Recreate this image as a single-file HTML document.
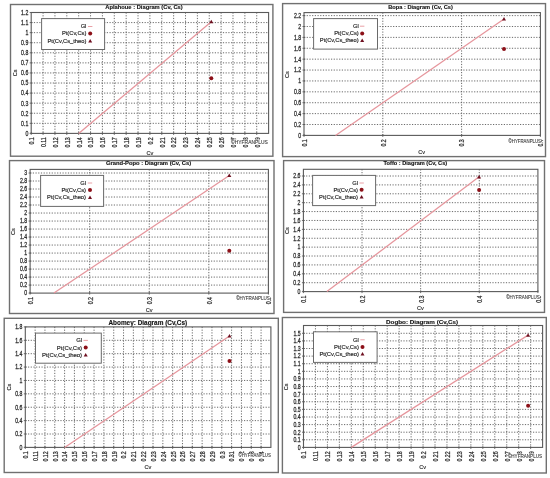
<!DOCTYPE html><html><head><meta charset="utf-8"><style>html,body{margin:0;padding:0;background:#fff;}svg{display:block;font-family:"Liberation Sans",sans-serif;filter:blur(0.35px);}</style></head><body>
<svg width="550" height="478" viewBox="0 0 550 478">
<rect x="0" y="0" width="550" height="478" fill="#fff"/>
<g><rect x="10.5" y="4.5" width="262.40" height="151.70" fill="none" stroke="#707070" stroke-width="1.4"/><text x="105.3" y="9.0" font-size="5.7" font-weight="bold" fill="#111" stroke="#111" stroke-width="0.12" textLength="77.4" lengthAdjust="spacingAndGlyphs">Aplahoue : Diagram (Cv, Cs)</text><line x1="43.07" y1="12.5" x2="43.07" y2="133.4" stroke="#5a5a5a" stroke-width="0.9" stroke-dasharray="1.2 1.5"/><line x1="54.94" y1="12.5" x2="54.94" y2="133.4" stroke="#5a5a5a" stroke-width="0.9" stroke-dasharray="1.2 1.5"/><line x1="66.81" y1="12.5" x2="66.81" y2="133.4" stroke="#5a5a5a" stroke-width="0.9" stroke-dasharray="1.2 1.5"/><line x1="78.68" y1="12.5" x2="78.68" y2="133.4" stroke="#5a5a5a" stroke-width="0.9" stroke-dasharray="1.2 1.5"/><line x1="90.55" y1="12.5" x2="90.55" y2="133.4" stroke="#5a5a5a" stroke-width="0.9" stroke-dasharray="1.2 1.5"/><line x1="102.42" y1="12.5" x2="102.42" y2="133.4" stroke="#5a5a5a" stroke-width="0.9" stroke-dasharray="1.2 1.5"/><line x1="114.29" y1="12.5" x2="114.29" y2="133.4" stroke="#5a5a5a" stroke-width="0.9" stroke-dasharray="1.2 1.5"/><line x1="126.16" y1="12.5" x2="126.16" y2="133.4" stroke="#5a5a5a" stroke-width="0.9" stroke-dasharray="1.2 1.5"/><line x1="138.03" y1="12.5" x2="138.03" y2="133.4" stroke="#5a5a5a" stroke-width="0.9" stroke-dasharray="1.2 1.5"/><line x1="149.90" y1="12.5" x2="149.90" y2="133.4" stroke="#5a5a5a" stroke-width="0.9" stroke-dasharray="1.2 1.5"/><line x1="161.77" y1="12.5" x2="161.77" y2="133.4" stroke="#5a5a5a" stroke-width="0.9" stroke-dasharray="1.2 1.5"/><line x1="173.64" y1="12.5" x2="173.64" y2="133.4" stroke="#5a5a5a" stroke-width="0.9" stroke-dasharray="1.2 1.5"/><line x1="185.51" y1="12.5" x2="185.51" y2="133.4" stroke="#5a5a5a" stroke-width="0.9" stroke-dasharray="1.2 1.5"/><line x1="197.38" y1="12.5" x2="197.38" y2="133.4" stroke="#5a5a5a" stroke-width="0.9" stroke-dasharray="1.2 1.5"/><line x1="209.25" y1="12.5" x2="209.25" y2="133.4" stroke="#5a5a5a" stroke-width="0.9" stroke-dasharray="1.2 1.5"/><line x1="221.12" y1="12.5" x2="221.12" y2="133.4" stroke="#5a5a5a" stroke-width="0.9" stroke-dasharray="1.2 1.5"/><line x1="232.99" y1="12.5" x2="232.99" y2="133.4" stroke="#5a5a5a" stroke-width="0.9" stroke-dasharray="1.2 1.5"/><line x1="244.86" y1="12.5" x2="244.86" y2="133.4" stroke="#5a5a5a" stroke-width="0.9" stroke-dasharray="1.2 1.5"/><line x1="256.73" y1="12.5" x2="256.73" y2="133.4" stroke="#5a5a5a" stroke-width="0.9" stroke-dasharray="1.2 1.5"/><line x1="31.2" y1="123.33" x2="268.6" y2="123.33" stroke="#5a5a5a" stroke-width="0.9" stroke-dasharray="1.2 1.5"/><line x1="31.2" y1="113.25" x2="268.6" y2="113.25" stroke="#5a5a5a" stroke-width="0.9" stroke-dasharray="1.2 1.5"/><line x1="31.2" y1="103.17" x2="268.6" y2="103.17" stroke="#5a5a5a" stroke-width="0.9" stroke-dasharray="1.2 1.5"/><line x1="31.2" y1="93.10" x2="268.6" y2="93.10" stroke="#5a5a5a" stroke-width="0.9" stroke-dasharray="1.2 1.5"/><line x1="31.2" y1="83.03" x2="268.6" y2="83.03" stroke="#5a5a5a" stroke-width="0.9" stroke-dasharray="1.2 1.5"/><line x1="31.2" y1="72.95" x2="268.6" y2="72.95" stroke="#5a5a5a" stroke-width="0.9" stroke-dasharray="1.2 1.5"/><line x1="31.2" y1="62.88" x2="268.6" y2="62.88" stroke="#5a5a5a" stroke-width="0.9" stroke-dasharray="1.2 1.5"/><line x1="31.2" y1="52.80" x2="268.6" y2="52.80" stroke="#5a5a5a" stroke-width="0.9" stroke-dasharray="1.2 1.5"/><line x1="31.2" y1="42.73" x2="268.6" y2="42.73" stroke="#5a5a5a" stroke-width="0.9" stroke-dasharray="1.2 1.5"/><line x1="31.2" y1="32.65" x2="268.6" y2="32.65" stroke="#5a5a5a" stroke-width="0.9" stroke-dasharray="1.2 1.5"/><line x1="31.2" y1="22.58" x2="268.6" y2="22.58" stroke="#5a5a5a" stroke-width="0.9" stroke-dasharray="1.2 1.5"/><rect x="31.2" y="12.5" width="237.40" height="120.90" fill="none" stroke="#5a5a5a" stroke-width="1.1"/><line x1="31.20" y1="132.20000000000002" x2="31.20" y2="134.9" stroke="#5a5a5a" stroke-width="0.9"/><text transform="translate(34.05,137.40) rotate(-90) scale(1,1.25)" text-anchor="end" font-size="5.2" fill="#2a2a2a" stroke="#2a2a2a" stroke-width="0.2">0.1</text><line x1="43.07" y1="132.20000000000002" x2="43.07" y2="134.9" stroke="#5a5a5a" stroke-width="0.9"/><text transform="translate(45.92,137.40) rotate(-90) scale(1,1.25)" text-anchor="end" font-size="5.2" fill="#2a2a2a" stroke="#2a2a2a" stroke-width="0.2">0.11</text><line x1="54.94" y1="132.20000000000002" x2="54.94" y2="134.9" stroke="#5a5a5a" stroke-width="0.9"/><text transform="translate(57.79,137.40) rotate(-90) scale(1,1.25)" text-anchor="end" font-size="5.2" fill="#2a2a2a" stroke="#2a2a2a" stroke-width="0.2">0.12</text><line x1="66.81" y1="132.20000000000002" x2="66.81" y2="134.9" stroke="#5a5a5a" stroke-width="0.9"/><text transform="translate(69.66,137.40) rotate(-90) scale(1,1.25)" text-anchor="end" font-size="5.2" fill="#2a2a2a" stroke="#2a2a2a" stroke-width="0.2">0.13</text><line x1="78.68" y1="132.20000000000002" x2="78.68" y2="134.9" stroke="#5a5a5a" stroke-width="0.9"/><text transform="translate(81.53,137.40) rotate(-90) scale(1,1.25)" text-anchor="end" font-size="5.2" fill="#2a2a2a" stroke="#2a2a2a" stroke-width="0.2">0.14</text><line x1="90.55" y1="132.20000000000002" x2="90.55" y2="134.9" stroke="#5a5a5a" stroke-width="0.9"/><text transform="translate(93.40,137.40) rotate(-90) scale(1,1.25)" text-anchor="end" font-size="5.2" fill="#2a2a2a" stroke="#2a2a2a" stroke-width="0.2">0.15</text><line x1="102.42" y1="132.20000000000002" x2="102.42" y2="134.9" stroke="#5a5a5a" stroke-width="0.9"/><text transform="translate(105.27,137.40) rotate(-90) scale(1,1.25)" text-anchor="end" font-size="5.2" fill="#2a2a2a" stroke="#2a2a2a" stroke-width="0.2">0.16</text><line x1="114.29" y1="132.20000000000002" x2="114.29" y2="134.9" stroke="#5a5a5a" stroke-width="0.9"/><text transform="translate(117.14,137.40) rotate(-90) scale(1,1.25)" text-anchor="end" font-size="5.2" fill="#2a2a2a" stroke="#2a2a2a" stroke-width="0.2">0.17</text><line x1="126.16" y1="132.20000000000002" x2="126.16" y2="134.9" stroke="#5a5a5a" stroke-width="0.9"/><text transform="translate(129.01,137.40) rotate(-90) scale(1,1.25)" text-anchor="end" font-size="5.2" fill="#2a2a2a" stroke="#2a2a2a" stroke-width="0.2">0.18</text><line x1="138.03" y1="132.20000000000002" x2="138.03" y2="134.9" stroke="#5a5a5a" stroke-width="0.9"/><text transform="translate(140.88,137.40) rotate(-90) scale(1,1.25)" text-anchor="end" font-size="5.2" fill="#2a2a2a" stroke="#2a2a2a" stroke-width="0.2">0.19</text><line x1="149.90" y1="132.20000000000002" x2="149.90" y2="134.9" stroke="#5a5a5a" stroke-width="0.9"/><text transform="translate(152.75,137.40) rotate(-90) scale(1,1.25)" text-anchor="end" font-size="5.2" fill="#2a2a2a" stroke="#2a2a2a" stroke-width="0.2">0.2</text><line x1="161.77" y1="132.20000000000002" x2="161.77" y2="134.9" stroke="#5a5a5a" stroke-width="0.9"/><text transform="translate(164.62,137.40) rotate(-90) scale(1,1.25)" text-anchor="end" font-size="5.2" fill="#2a2a2a" stroke="#2a2a2a" stroke-width="0.2">0.21</text><line x1="173.64" y1="132.20000000000002" x2="173.64" y2="134.9" stroke="#5a5a5a" stroke-width="0.9"/><text transform="translate(176.49,137.40) rotate(-90) scale(1,1.25)" text-anchor="end" font-size="5.2" fill="#2a2a2a" stroke="#2a2a2a" stroke-width="0.2">0.22</text><line x1="185.51" y1="132.20000000000002" x2="185.51" y2="134.9" stroke="#5a5a5a" stroke-width="0.9"/><text transform="translate(188.36,137.40) rotate(-90) scale(1,1.25)" text-anchor="end" font-size="5.2" fill="#2a2a2a" stroke="#2a2a2a" stroke-width="0.2">0.23</text><line x1="197.38" y1="132.20000000000002" x2="197.38" y2="134.9" stroke="#5a5a5a" stroke-width="0.9"/><text transform="translate(200.23,137.40) rotate(-90) scale(1,1.25)" text-anchor="end" font-size="5.2" fill="#2a2a2a" stroke="#2a2a2a" stroke-width="0.2">0.24</text><line x1="209.25" y1="132.20000000000002" x2="209.25" y2="134.9" stroke="#5a5a5a" stroke-width="0.9"/><text transform="translate(212.10,137.40) rotate(-90) scale(1,1.25)" text-anchor="end" font-size="5.2" fill="#2a2a2a" stroke="#2a2a2a" stroke-width="0.2">0.25</text><line x1="221.12" y1="132.20000000000002" x2="221.12" y2="134.9" stroke="#5a5a5a" stroke-width="0.9"/><text transform="translate(223.97,137.40) rotate(-90) scale(1,1.25)" text-anchor="end" font-size="5.2" fill="#2a2a2a" stroke="#2a2a2a" stroke-width="0.2">0.26</text><line x1="232.99" y1="132.20000000000002" x2="232.99" y2="134.9" stroke="#5a5a5a" stroke-width="0.9"/><text transform="translate(235.84,137.40) rotate(-90) scale(1,1.25)" text-anchor="end" font-size="5.2" fill="#2a2a2a" stroke="#2a2a2a" stroke-width="0.2">0.27</text><line x1="244.86" y1="132.20000000000002" x2="244.86" y2="134.9" stroke="#5a5a5a" stroke-width="0.9"/><text transform="translate(247.71,137.40) rotate(-90) scale(1,1.25)" text-anchor="end" font-size="5.2" fill="#2a2a2a" stroke="#2a2a2a" stroke-width="0.2">0.28</text><line x1="256.73" y1="132.20000000000002" x2="256.73" y2="134.9" stroke="#5a5a5a" stroke-width="0.9"/><text transform="translate(259.58,137.40) rotate(-90) scale(1,1.25)" text-anchor="end" font-size="5.2" fill="#2a2a2a" stroke="#2a2a2a" stroke-width="0.2">0.29</text><line x1="29.7" y1="133.40" x2="32.4" y2="133.40" stroke="#5a5a5a" stroke-width="0.9"/><text transform="translate(28.30,135.75) scale(1,1.25)" text-anchor="end" font-size="5.2" fill="#2a2a2a" stroke="#2a2a2a" stroke-width="0.2">0</text><line x1="29.7" y1="123.33" x2="32.4" y2="123.33" stroke="#5a5a5a" stroke-width="0.9"/><text transform="translate(28.30,125.67) scale(1,1.25)" text-anchor="end" font-size="5.2" fill="#2a2a2a" stroke="#2a2a2a" stroke-width="0.2">0.1</text><line x1="29.7" y1="113.25" x2="32.4" y2="113.25" stroke="#5a5a5a" stroke-width="0.9"/><text transform="translate(28.30,115.60) scale(1,1.25)" text-anchor="end" font-size="5.2" fill="#2a2a2a" stroke="#2a2a2a" stroke-width="0.2">0.2</text><line x1="29.7" y1="103.17" x2="32.4" y2="103.17" stroke="#5a5a5a" stroke-width="0.9"/><text transform="translate(28.30,105.52) scale(1,1.25)" text-anchor="end" font-size="5.2" fill="#2a2a2a" stroke="#2a2a2a" stroke-width="0.2">0.3</text><line x1="29.7" y1="93.10" x2="32.4" y2="93.10" stroke="#5a5a5a" stroke-width="0.9"/><text transform="translate(28.30,95.45) scale(1,1.25)" text-anchor="end" font-size="5.2" fill="#2a2a2a" stroke="#2a2a2a" stroke-width="0.2">0.4</text><line x1="29.7" y1="83.03" x2="32.4" y2="83.03" stroke="#5a5a5a" stroke-width="0.9"/><text transform="translate(28.30,85.38) scale(1,1.25)" text-anchor="end" font-size="5.2" fill="#2a2a2a" stroke="#2a2a2a" stroke-width="0.2">0.5</text><line x1="29.7" y1="72.95" x2="32.4" y2="72.95" stroke="#5a5a5a" stroke-width="0.9"/><text transform="translate(28.30,75.30) scale(1,1.25)" text-anchor="end" font-size="5.2" fill="#2a2a2a" stroke="#2a2a2a" stroke-width="0.2">0.6</text><line x1="29.7" y1="62.88" x2="32.4" y2="62.88" stroke="#5a5a5a" stroke-width="0.9"/><text transform="translate(28.30,65.22) scale(1,1.25)" text-anchor="end" font-size="5.2" fill="#2a2a2a" stroke="#2a2a2a" stroke-width="0.2">0.7</text><line x1="29.7" y1="52.80" x2="32.4" y2="52.80" stroke="#5a5a5a" stroke-width="0.9"/><text transform="translate(28.30,55.15) scale(1,1.25)" text-anchor="end" font-size="5.2" fill="#2a2a2a" stroke="#2a2a2a" stroke-width="0.2">0.8</text><line x1="29.7" y1="42.73" x2="32.4" y2="42.73" stroke="#5a5a5a" stroke-width="0.9"/><text transform="translate(28.30,45.08) scale(1,1.25)" text-anchor="end" font-size="5.2" fill="#2a2a2a" stroke="#2a2a2a" stroke-width="0.2">0.9</text><line x1="29.7" y1="32.65" x2="32.4" y2="32.65" stroke="#5a5a5a" stroke-width="0.9"/><text transform="translate(28.30,35.00) scale(1,1.25)" text-anchor="end" font-size="5.2" fill="#2a2a2a" stroke="#2a2a2a" stroke-width="0.2">1</text><line x1="29.7" y1="22.58" x2="32.4" y2="22.58" stroke="#5a5a5a" stroke-width="0.9"/><text transform="translate(28.30,24.93) scale(1,1.25)" text-anchor="end" font-size="5.2" fill="#2a2a2a" stroke="#2a2a2a" stroke-width="0.2">1.1</text><line x1="29.7" y1="12.50" x2="32.4" y2="12.50" stroke="#5a5a5a" stroke-width="0.9"/><text transform="translate(28.30,14.85) scale(1,1.25)" text-anchor="end" font-size="5.2" fill="#2a2a2a" stroke="#2a2a2a" stroke-width="0.2">1.2</text><rect x="41.6" y="18.6" width="63.00" height="30.90" fill="#fff" stroke="#6a6a6a" stroke-width="1"/><text x="86.4" y="28.40" text-anchor="end" font-size="5.75" fill="#2a2a2a" stroke="#2a2a2a" stroke-width="0.18">Gl</text><text x="86.4" y="35.40" text-anchor="end" font-size="5.75" fill="#2a2a2a" stroke="#2a2a2a" stroke-width="0.18">Pt(Cv,Cs)</text><text x="86.4" y="42.70" text-anchor="end" font-size="5.75" fill="#2a2a2a" stroke="#2a2a2a" stroke-width="0.18">Pt(Cv,Cs_theo)</text><line x1="88.00" y1="26.50" x2="92.40" y2="26.50" stroke="#e6959c" stroke-width="0.9"/><circle cx="90.20" cy="33.50" r="2.0" fill="#8c1018"/><path d="M88.20,42.40 L92.20,42.40 L90.20,38.90 Z" fill="#6e1020"/><line x1="78.68" y1="133.4" x2="211.30" y2="21.70" stroke="#e6959c" stroke-width="1.25"/><circle cx="211.30" cy="78.30" r="2.0" fill="#8c1018"/><path d="M209.30,23.30 L213.30,23.30 L211.30,19.80 Z" fill="#6e1020"/><text transform="translate(16.70,72.90) rotate(-90)" text-anchor="middle" font-size="5.6" fill="#2a2a2a" stroke="#2a2a2a" stroke-width="0.15">Cs</text><text x="150.00" y="154.90" text-anchor="middle" font-size="5.6" fill="#2a2a2a" stroke="#2a2a2a" stroke-width="0.15">Cv</text><rect x="230.80" y="139.50" width="37.40" height="5.0" fill="#fff"/><text x="231.10" y="143.50" font-size="4.6" fill="#3a3a3a" stroke="#3a3a3a" stroke-width="0.1" textLength="36.80" lengthAdjust="spacingAndGlyphs">©HYFRANPLUS</text></g>
<g><rect x="282.6" y="3.6" width="262.90" height="153.00" fill="none" stroke="#707070" stroke-width="1.4"/><text x="388.2" y="9.3" font-size="5.7" font-weight="bold" fill="#111" stroke="#111" stroke-width="0.12" textLength="64.6" lengthAdjust="spacingAndGlyphs">Bopa : Diagram (Cv, Cs)</text><line x1="382.80" y1="12.6" x2="382.80" y2="135.4" stroke="#5a5a5a" stroke-width="0.9" stroke-dasharray="1.2 1.5"/><line x1="461.60" y1="12.6" x2="461.60" y2="135.4" stroke="#5a5a5a" stroke-width="0.9" stroke-dasharray="1.2 1.5"/><line x1="304.0" y1="124.51" x2="540.4" y2="124.51" stroke="#5a5a5a" stroke-width="0.9" stroke-dasharray="1.2 1.5"/><line x1="304.0" y1="113.62" x2="540.4" y2="113.62" stroke="#5a5a5a" stroke-width="0.9" stroke-dasharray="1.2 1.5"/><line x1="304.0" y1="102.73" x2="540.4" y2="102.73" stroke="#5a5a5a" stroke-width="0.9" stroke-dasharray="1.2 1.5"/><line x1="304.0" y1="91.84" x2="540.4" y2="91.84" stroke="#5a5a5a" stroke-width="0.9" stroke-dasharray="1.2 1.5"/><line x1="304.0" y1="80.95" x2="540.4" y2="80.95" stroke="#5a5a5a" stroke-width="0.9" stroke-dasharray="1.2 1.5"/><line x1="304.0" y1="70.06" x2="540.4" y2="70.06" stroke="#5a5a5a" stroke-width="0.9" stroke-dasharray="1.2 1.5"/><line x1="304.0" y1="59.17" x2="540.4" y2="59.17" stroke="#5a5a5a" stroke-width="0.9" stroke-dasharray="1.2 1.5"/><line x1="304.0" y1="48.28" x2="540.4" y2="48.28" stroke="#5a5a5a" stroke-width="0.9" stroke-dasharray="1.2 1.5"/><line x1="304.0" y1="37.39" x2="540.4" y2="37.39" stroke="#5a5a5a" stroke-width="0.9" stroke-dasharray="1.2 1.5"/><line x1="304.0" y1="26.50" x2="540.4" y2="26.50" stroke="#5a5a5a" stroke-width="0.9" stroke-dasharray="1.2 1.5"/><line x1="304.0" y1="15.61" x2="540.4" y2="15.61" stroke="#5a5a5a" stroke-width="0.9" stroke-dasharray="1.2 1.5"/><rect x="304.0" y="12.6" width="236.40" height="122.80" fill="none" stroke="#5a5a5a" stroke-width="1.1"/><line x1="304.00" y1="134.20000000000002" x2="304.00" y2="136.9" stroke="#5a5a5a" stroke-width="0.9"/><text transform="translate(306.85,139.40) rotate(-90) scale(1,1.25)" text-anchor="end" font-size="5.2" fill="#2a2a2a" stroke="#2a2a2a" stroke-width="0.2">0.1</text><line x1="382.80" y1="134.20000000000002" x2="382.80" y2="136.9" stroke="#5a5a5a" stroke-width="0.9"/><text transform="translate(385.65,139.40) rotate(-90) scale(1,1.25)" text-anchor="end" font-size="5.2" fill="#2a2a2a" stroke="#2a2a2a" stroke-width="0.2">0.2</text><line x1="461.60" y1="134.20000000000002" x2="461.60" y2="136.9" stroke="#5a5a5a" stroke-width="0.9"/><text transform="translate(464.45,139.40) rotate(-90) scale(1,1.25)" text-anchor="end" font-size="5.2" fill="#2a2a2a" stroke="#2a2a2a" stroke-width="0.2">0.3</text><line x1="540.40" y1="134.20000000000002" x2="540.40" y2="136.9" stroke="#5a5a5a" stroke-width="0.9"/><text transform="translate(543.25,139.40) rotate(-90) scale(1,1.25)" text-anchor="end" font-size="5.2" fill="#2a2a2a" stroke="#2a2a2a" stroke-width="0.2">0.4</text><line x1="302.5" y1="135.40" x2="305.2" y2="135.40" stroke="#5a5a5a" stroke-width="0.9"/><text transform="translate(301.10,137.75) scale(1,1.25)" text-anchor="end" font-size="5.2" fill="#2a2a2a" stroke="#2a2a2a" stroke-width="0.2">0</text><line x1="302.5" y1="124.51" x2="305.2" y2="124.51" stroke="#5a5a5a" stroke-width="0.9"/><text transform="translate(301.10,126.86) scale(1,1.25)" text-anchor="end" font-size="5.2" fill="#2a2a2a" stroke="#2a2a2a" stroke-width="0.2">0.2</text><line x1="302.5" y1="113.62" x2="305.2" y2="113.62" stroke="#5a5a5a" stroke-width="0.9"/><text transform="translate(301.10,115.97) scale(1,1.25)" text-anchor="end" font-size="5.2" fill="#2a2a2a" stroke="#2a2a2a" stroke-width="0.2">0.4</text><line x1="302.5" y1="102.73" x2="305.2" y2="102.73" stroke="#5a5a5a" stroke-width="0.9"/><text transform="translate(301.10,105.08) scale(1,1.25)" text-anchor="end" font-size="5.2" fill="#2a2a2a" stroke="#2a2a2a" stroke-width="0.2">0.6</text><line x1="302.5" y1="91.84" x2="305.2" y2="91.84" stroke="#5a5a5a" stroke-width="0.9"/><text transform="translate(301.10,94.19) scale(1,1.25)" text-anchor="end" font-size="5.2" fill="#2a2a2a" stroke="#2a2a2a" stroke-width="0.2">0.8</text><line x1="302.5" y1="80.95" x2="305.2" y2="80.95" stroke="#5a5a5a" stroke-width="0.9"/><text transform="translate(301.10,83.30) scale(1,1.25)" text-anchor="end" font-size="5.2" fill="#2a2a2a" stroke="#2a2a2a" stroke-width="0.2">1</text><line x1="302.5" y1="70.06" x2="305.2" y2="70.06" stroke="#5a5a5a" stroke-width="0.9"/><text transform="translate(301.10,72.41) scale(1,1.25)" text-anchor="end" font-size="5.2" fill="#2a2a2a" stroke="#2a2a2a" stroke-width="0.2">1.2</text><line x1="302.5" y1="59.17" x2="305.2" y2="59.17" stroke="#5a5a5a" stroke-width="0.9"/><text transform="translate(301.10,61.52) scale(1,1.25)" text-anchor="end" font-size="5.2" fill="#2a2a2a" stroke="#2a2a2a" stroke-width="0.2">1.4</text><line x1="302.5" y1="48.28" x2="305.2" y2="48.28" stroke="#5a5a5a" stroke-width="0.9"/><text transform="translate(301.10,50.63) scale(1,1.25)" text-anchor="end" font-size="5.2" fill="#2a2a2a" stroke="#2a2a2a" stroke-width="0.2">1.6</text><line x1="302.5" y1="37.39" x2="305.2" y2="37.39" stroke="#5a5a5a" stroke-width="0.9"/><text transform="translate(301.10,39.74) scale(1,1.25)" text-anchor="end" font-size="5.2" fill="#2a2a2a" stroke="#2a2a2a" stroke-width="0.2">1.8</text><line x1="302.5" y1="26.50" x2="305.2" y2="26.50" stroke="#5a5a5a" stroke-width="0.9"/><text transform="translate(301.10,28.85) scale(1,1.25)" text-anchor="end" font-size="5.2" fill="#2a2a2a" stroke="#2a2a2a" stroke-width="0.2">2</text><line x1="302.5" y1="15.61" x2="305.2" y2="15.61" stroke="#5a5a5a" stroke-width="0.9"/><text transform="translate(301.10,17.96) scale(1,1.25)" text-anchor="end" font-size="5.2" fill="#2a2a2a" stroke="#2a2a2a" stroke-width="0.2">2.2</text><rect x="313.6" y="18.6" width="63.90" height="30.50" fill="#fff" stroke="#6a6a6a" stroke-width="1"/><text x="358.7" y="28.10" text-anchor="end" font-size="5.75" fill="#2a2a2a" stroke="#2a2a2a" stroke-width="0.18">Gl</text><text x="358.7" y="35.40" text-anchor="end" font-size="5.75" fill="#2a2a2a" stroke="#2a2a2a" stroke-width="0.18">Pt(Cv,Cs)</text><text x="358.7" y="42.40" text-anchor="end" font-size="5.75" fill="#2a2a2a" stroke="#2a2a2a" stroke-width="0.18">Pt(Cv,Cs_theo)</text><line x1="360.00" y1="26.20" x2="364.40" y2="26.20" stroke="#e6959c" stroke-width="0.9"/><circle cx="362.20" cy="33.50" r="2.0" fill="#8c1018"/><path d="M360.20,42.10 L364.20,42.10 L362.20,38.60 Z" fill="#6e1020"/><line x1="335.52" y1="135.4" x2="504.00" y2="19.00" stroke="#e6959c" stroke-width="1.25"/><circle cx="504.00" cy="49.00" r="2.0" fill="#8c1018"/><path d="M502.00,20.60 L506.00,20.60 L504.00,17.10 Z" fill="#6e1020"/><text transform="translate(289.10,74.50) rotate(-90)" text-anchor="middle" font-size="5.6" fill="#2a2a2a" stroke="#2a2a2a" stroke-width="0.15">Cs</text><text x="421.60" y="154.20" text-anchor="middle" font-size="5.6" fill="#2a2a2a" stroke="#2a2a2a" stroke-width="0.15">Cv</text><rect x="508.30" y="139.10" width="33.00" height="5.0" fill="#fff"/><text x="508.60" y="143.10" font-size="4.6" fill="#3a3a3a" stroke="#3a3a3a" stroke-width="0.1" textLength="32.40" lengthAdjust="spacingAndGlyphs">©HYFRANPLUS</text></g>
<g><rect x="9.5" y="160.6" width="264.50" height="152.90" fill="none" stroke="#707070" stroke-width="1.4"/><text x="106.0" y="165.2" font-size="5.8" font-weight="bold" fill="#111" stroke="#111" stroke-width="0.12" textLength="85.2" lengthAdjust="spacingAndGlyphs">Grand-Popo : Diagram (Cv, Cs)</text><line x1="89.67" y1="169.4" x2="89.67" y2="293.1" stroke="#5a5a5a" stroke-width="0.9" stroke-dasharray="1.2 1.5"/><line x1="149.25" y1="169.4" x2="149.25" y2="293.1" stroke="#5a5a5a" stroke-width="0.9" stroke-dasharray="1.2 1.5"/><line x1="208.82" y1="169.4" x2="208.82" y2="293.1" stroke="#5a5a5a" stroke-width="0.9" stroke-dasharray="1.2 1.5"/><line x1="30.1" y1="285.09" x2="268.4" y2="285.09" stroke="#5a5a5a" stroke-width="0.9" stroke-dasharray="1.2 1.5"/><line x1="30.1" y1="277.09" x2="268.4" y2="277.09" stroke="#5a5a5a" stroke-width="0.9" stroke-dasharray="1.2 1.5"/><line x1="30.1" y1="269.08" x2="268.4" y2="269.08" stroke="#5a5a5a" stroke-width="0.9" stroke-dasharray="1.2 1.5"/><line x1="30.1" y1="261.08" x2="268.4" y2="261.08" stroke="#5a5a5a" stroke-width="0.9" stroke-dasharray="1.2 1.5"/><line x1="30.1" y1="253.07" x2="268.4" y2="253.07" stroke="#5a5a5a" stroke-width="0.9" stroke-dasharray="1.2 1.5"/><line x1="30.1" y1="245.06" x2="268.4" y2="245.06" stroke="#5a5a5a" stroke-width="0.9" stroke-dasharray="1.2 1.5"/><line x1="30.1" y1="237.06" x2="268.4" y2="237.06" stroke="#5a5a5a" stroke-width="0.9" stroke-dasharray="1.2 1.5"/><line x1="30.1" y1="229.05" x2="268.4" y2="229.05" stroke="#5a5a5a" stroke-width="0.9" stroke-dasharray="1.2 1.5"/><line x1="30.1" y1="221.05" x2="268.4" y2="221.05" stroke="#5a5a5a" stroke-width="0.9" stroke-dasharray="1.2 1.5"/><line x1="30.1" y1="213.04" x2="268.4" y2="213.04" stroke="#5a5a5a" stroke-width="0.9" stroke-dasharray="1.2 1.5"/><line x1="30.1" y1="205.03" x2="268.4" y2="205.03" stroke="#5a5a5a" stroke-width="0.9" stroke-dasharray="1.2 1.5"/><line x1="30.1" y1="197.03" x2="268.4" y2="197.03" stroke="#5a5a5a" stroke-width="0.9" stroke-dasharray="1.2 1.5"/><line x1="30.1" y1="189.02" x2="268.4" y2="189.02" stroke="#5a5a5a" stroke-width="0.9" stroke-dasharray="1.2 1.5"/><line x1="30.1" y1="181.02" x2="268.4" y2="181.02" stroke="#5a5a5a" stroke-width="0.9" stroke-dasharray="1.2 1.5"/><line x1="30.1" y1="173.01" x2="268.4" y2="173.01" stroke="#5a5a5a" stroke-width="0.9" stroke-dasharray="1.2 1.5"/><rect x="30.1" y="169.4" width="238.30" height="123.70" fill="none" stroke="#5a5a5a" stroke-width="1.1"/><line x1="30.10" y1="291.90000000000003" x2="30.10" y2="294.6" stroke="#5a5a5a" stroke-width="0.9"/><text transform="translate(32.95,297.10) rotate(-90) scale(1,1.25)" text-anchor="end" font-size="5.2" fill="#2a2a2a" stroke="#2a2a2a" stroke-width="0.2">0.1</text><line x1="89.67" y1="291.90000000000003" x2="89.67" y2="294.6" stroke="#5a5a5a" stroke-width="0.9"/><text transform="translate(92.52,297.10) rotate(-90) scale(1,1.25)" text-anchor="end" font-size="5.2" fill="#2a2a2a" stroke="#2a2a2a" stroke-width="0.2">0.2</text><line x1="149.25" y1="291.90000000000003" x2="149.25" y2="294.6" stroke="#5a5a5a" stroke-width="0.9"/><text transform="translate(152.10,297.10) rotate(-90) scale(1,1.25)" text-anchor="end" font-size="5.2" fill="#2a2a2a" stroke="#2a2a2a" stroke-width="0.2">0.3</text><line x1="208.82" y1="291.90000000000003" x2="208.82" y2="294.6" stroke="#5a5a5a" stroke-width="0.9"/><text transform="translate(211.67,297.10) rotate(-90) scale(1,1.25)" text-anchor="end" font-size="5.2" fill="#2a2a2a" stroke="#2a2a2a" stroke-width="0.2">0.4</text><line x1="268.40" y1="291.90000000000003" x2="268.40" y2="294.6" stroke="#5a5a5a" stroke-width="0.9"/><text transform="translate(271.25,297.10) rotate(-90) scale(1,1.25)" text-anchor="end" font-size="5.2" fill="#2a2a2a" stroke="#2a2a2a" stroke-width="0.2">0.5</text><line x1="28.6" y1="293.10" x2="31.3" y2="293.10" stroke="#5a5a5a" stroke-width="0.9"/><text transform="translate(27.20,295.45) scale(1,1.25)" text-anchor="end" font-size="5.2" fill="#2a2a2a" stroke="#2a2a2a" stroke-width="0.2">0</text><line x1="28.6" y1="285.09" x2="31.3" y2="285.09" stroke="#5a5a5a" stroke-width="0.9"/><text transform="translate(27.20,287.44) scale(1,1.25)" text-anchor="end" font-size="5.2" fill="#2a2a2a" stroke="#2a2a2a" stroke-width="0.2">0.2</text><line x1="28.6" y1="277.09" x2="31.3" y2="277.09" stroke="#5a5a5a" stroke-width="0.9"/><text transform="translate(27.20,279.44) scale(1,1.25)" text-anchor="end" font-size="5.2" fill="#2a2a2a" stroke="#2a2a2a" stroke-width="0.2">0.4</text><line x1="28.6" y1="269.08" x2="31.3" y2="269.08" stroke="#5a5a5a" stroke-width="0.9"/><text transform="translate(27.20,271.43) scale(1,1.25)" text-anchor="end" font-size="5.2" fill="#2a2a2a" stroke="#2a2a2a" stroke-width="0.2">0.6</text><line x1="28.6" y1="261.08" x2="31.3" y2="261.08" stroke="#5a5a5a" stroke-width="0.9"/><text transform="translate(27.20,263.43) scale(1,1.25)" text-anchor="end" font-size="5.2" fill="#2a2a2a" stroke="#2a2a2a" stroke-width="0.2">0.8</text><line x1="28.6" y1="253.07" x2="31.3" y2="253.07" stroke="#5a5a5a" stroke-width="0.9"/><text transform="translate(27.20,255.42) scale(1,1.25)" text-anchor="end" font-size="5.2" fill="#2a2a2a" stroke="#2a2a2a" stroke-width="0.2">1</text><line x1="28.6" y1="245.06" x2="31.3" y2="245.06" stroke="#5a5a5a" stroke-width="0.9"/><text transform="translate(27.20,247.41) scale(1,1.25)" text-anchor="end" font-size="5.2" fill="#2a2a2a" stroke="#2a2a2a" stroke-width="0.2">1.2</text><line x1="28.6" y1="237.06" x2="31.3" y2="237.06" stroke="#5a5a5a" stroke-width="0.9"/><text transform="translate(27.20,239.41) scale(1,1.25)" text-anchor="end" font-size="5.2" fill="#2a2a2a" stroke="#2a2a2a" stroke-width="0.2">1.4</text><line x1="28.6" y1="229.05" x2="31.3" y2="229.05" stroke="#5a5a5a" stroke-width="0.9"/><text transform="translate(27.20,231.40) scale(1,1.25)" text-anchor="end" font-size="5.2" fill="#2a2a2a" stroke="#2a2a2a" stroke-width="0.2">1.6</text><line x1="28.6" y1="221.05" x2="31.3" y2="221.05" stroke="#5a5a5a" stroke-width="0.9"/><text transform="translate(27.20,223.40) scale(1,1.25)" text-anchor="end" font-size="5.2" fill="#2a2a2a" stroke="#2a2a2a" stroke-width="0.2">1.8</text><line x1="28.6" y1="213.04" x2="31.3" y2="213.04" stroke="#5a5a5a" stroke-width="0.9"/><text transform="translate(27.20,215.39) scale(1,1.25)" text-anchor="end" font-size="5.2" fill="#2a2a2a" stroke="#2a2a2a" stroke-width="0.2">2</text><line x1="28.6" y1="205.03" x2="31.3" y2="205.03" stroke="#5a5a5a" stroke-width="0.9"/><text transform="translate(27.20,207.38) scale(1,1.25)" text-anchor="end" font-size="5.2" fill="#2a2a2a" stroke="#2a2a2a" stroke-width="0.2">2.2</text><line x1="28.6" y1="197.03" x2="31.3" y2="197.03" stroke="#5a5a5a" stroke-width="0.9"/><text transform="translate(27.20,199.38) scale(1,1.25)" text-anchor="end" font-size="5.2" fill="#2a2a2a" stroke="#2a2a2a" stroke-width="0.2">2.4</text><line x1="28.6" y1="189.02" x2="31.3" y2="189.02" stroke="#5a5a5a" stroke-width="0.9"/><text transform="translate(27.20,191.37) scale(1,1.25)" text-anchor="end" font-size="5.2" fill="#2a2a2a" stroke="#2a2a2a" stroke-width="0.2">2.6</text><line x1="28.6" y1="181.02" x2="31.3" y2="181.02" stroke="#5a5a5a" stroke-width="0.9"/><text transform="translate(27.20,183.37) scale(1,1.25)" text-anchor="end" font-size="5.2" fill="#2a2a2a" stroke="#2a2a2a" stroke-width="0.2">2.8</text><line x1="28.6" y1="173.01" x2="31.3" y2="173.01" stroke="#5a5a5a" stroke-width="0.9"/><text transform="translate(27.20,175.36) scale(1,1.25)" text-anchor="end" font-size="5.2" fill="#2a2a2a" stroke="#2a2a2a" stroke-width="0.2">3</text><rect x="40.6" y="175.4" width="63.00" height="31.00" fill="#fff" stroke="#6a6a6a" stroke-width="1"/><text x="86.0" y="184.90" text-anchor="end" font-size="5.75" fill="#2a2a2a" stroke="#2a2a2a" stroke-width="0.18">Gl</text><text x="86.0" y="191.90" text-anchor="end" font-size="5.75" fill="#2a2a2a" stroke="#2a2a2a" stroke-width="0.18">Pt(Cv,Cs)</text><text x="86.0" y="199.30" text-anchor="end" font-size="5.75" fill="#2a2a2a" stroke="#2a2a2a" stroke-width="0.18">Pt(Cv,Cs_theo)</text><line x1="87.80" y1="183.00" x2="92.20" y2="183.00" stroke="#e6959c" stroke-width="0.9"/><circle cx="90.00" cy="190.00" r="2.0" fill="#8c1018"/><path d="M88.00,199.00 L92.00,199.00 L90.00,195.50 Z" fill="#6e1020"/><line x1="53.93" y1="293.1" x2="229.30" y2="175.50" stroke="#e6959c" stroke-width="1.25"/><circle cx="229.30" cy="250.80" r="2.0" fill="#8c1018"/><path d="M227.30,177.10 L231.30,177.10 L229.30,173.60 Z" fill="#6e1020"/><text transform="translate(14.90,231.50) rotate(-90)" text-anchor="middle" font-size="5.6" fill="#2a2a2a" stroke="#2a2a2a" stroke-width="0.15">Cs</text><text x="149.10" y="311.90" text-anchor="middle" font-size="5.6" fill="#2a2a2a" stroke="#2a2a2a" stroke-width="0.15">Cv</text><rect x="235.90" y="296.00" width="34.20" height="5.0" fill="#fff"/><text x="236.20" y="300.00" font-size="4.6" fill="#3a3a3a" stroke="#3a3a3a" stroke-width="0.1" textLength="33.60" lengthAdjust="spacingAndGlyphs">©HYFRANPLUS</text></g>
<g><rect x="283.6" y="160.6" width="260.90" height="151.80" fill="none" stroke="#707070" stroke-width="1.4"/><text x="383.6" y="165.2" font-size="5.6" font-weight="bold" fill="#111" stroke="#111" stroke-width="0.12" textLength="63.6" lengthAdjust="spacingAndGlyphs">Toffo : Diagram (Cv, Cs)</text><line x1="362.02" y1="169.3" x2="362.02" y2="291.6" stroke="#5a5a5a" stroke-width="0.9" stroke-dasharray="1.2 1.5"/><line x1="420.65" y1="169.3" x2="420.65" y2="291.6" stroke="#5a5a5a" stroke-width="0.9" stroke-dasharray="1.2 1.5"/><line x1="479.27" y1="169.3" x2="479.27" y2="291.6" stroke="#5a5a5a" stroke-width="0.9" stroke-dasharray="1.2 1.5"/><line x1="303.4" y1="282.71" x2="537.9" y2="282.71" stroke="#5a5a5a" stroke-width="0.9" stroke-dasharray="1.2 1.5"/><line x1="303.4" y1="273.82" x2="537.9" y2="273.82" stroke="#5a5a5a" stroke-width="0.9" stroke-dasharray="1.2 1.5"/><line x1="303.4" y1="264.92" x2="537.9" y2="264.92" stroke="#5a5a5a" stroke-width="0.9" stroke-dasharray="1.2 1.5"/><line x1="303.4" y1="256.03" x2="537.9" y2="256.03" stroke="#5a5a5a" stroke-width="0.9" stroke-dasharray="1.2 1.5"/><line x1="303.4" y1="247.14" x2="537.9" y2="247.14" stroke="#5a5a5a" stroke-width="0.9" stroke-dasharray="1.2 1.5"/><line x1="303.4" y1="238.25" x2="537.9" y2="238.25" stroke="#5a5a5a" stroke-width="0.9" stroke-dasharray="1.2 1.5"/><line x1="303.4" y1="229.36" x2="537.9" y2="229.36" stroke="#5a5a5a" stroke-width="0.9" stroke-dasharray="1.2 1.5"/><line x1="303.4" y1="220.46" x2="537.9" y2="220.46" stroke="#5a5a5a" stroke-width="0.9" stroke-dasharray="1.2 1.5"/><line x1="303.4" y1="211.57" x2="537.9" y2="211.57" stroke="#5a5a5a" stroke-width="0.9" stroke-dasharray="1.2 1.5"/><line x1="303.4" y1="202.68" x2="537.9" y2="202.68" stroke="#5a5a5a" stroke-width="0.9" stroke-dasharray="1.2 1.5"/><line x1="303.4" y1="193.79" x2="537.9" y2="193.79" stroke="#5a5a5a" stroke-width="0.9" stroke-dasharray="1.2 1.5"/><line x1="303.4" y1="184.90" x2="537.9" y2="184.90" stroke="#5a5a5a" stroke-width="0.9" stroke-dasharray="1.2 1.5"/><line x1="303.4" y1="176.00" x2="537.9" y2="176.00" stroke="#5a5a5a" stroke-width="0.9" stroke-dasharray="1.2 1.5"/><rect x="303.4" y="169.3" width="234.50" height="122.30" fill="none" stroke="#5a5a5a" stroke-width="1.1"/><line x1="303.40" y1="290.40000000000003" x2="303.40" y2="293.1" stroke="#5a5a5a" stroke-width="0.9"/><text transform="translate(306.25,295.60) rotate(-90) scale(1,1.25)" text-anchor="end" font-size="5.2" fill="#2a2a2a" stroke="#2a2a2a" stroke-width="0.2">0.1</text><line x1="362.02" y1="290.40000000000003" x2="362.02" y2="293.1" stroke="#5a5a5a" stroke-width="0.9"/><text transform="translate(364.88,295.60) rotate(-90) scale(1,1.25)" text-anchor="end" font-size="5.2" fill="#2a2a2a" stroke="#2a2a2a" stroke-width="0.2">0.2</text><line x1="420.65" y1="290.40000000000003" x2="420.65" y2="293.1" stroke="#5a5a5a" stroke-width="0.9"/><text transform="translate(423.50,295.60) rotate(-90) scale(1,1.25)" text-anchor="end" font-size="5.2" fill="#2a2a2a" stroke="#2a2a2a" stroke-width="0.2">0.3</text><line x1="479.27" y1="290.40000000000003" x2="479.27" y2="293.1" stroke="#5a5a5a" stroke-width="0.9"/><text transform="translate(482.12,295.60) rotate(-90) scale(1,1.25)" text-anchor="end" font-size="5.2" fill="#2a2a2a" stroke="#2a2a2a" stroke-width="0.2">0.4</text><line x1="537.90" y1="290.40000000000003" x2="537.90" y2="293.1" stroke="#5a5a5a" stroke-width="0.9"/><text transform="translate(540.75,295.60) rotate(-90) scale(1,1.25)" text-anchor="end" font-size="5.2" fill="#2a2a2a" stroke="#2a2a2a" stroke-width="0.2">0.5</text><line x1="301.9" y1="291.60" x2="304.59999999999997" y2="291.60" stroke="#5a5a5a" stroke-width="0.9"/><text transform="translate(300.50,293.95) scale(1,1.25)" text-anchor="end" font-size="5.2" fill="#2a2a2a" stroke="#2a2a2a" stroke-width="0.2">0</text><line x1="301.9" y1="282.71" x2="304.59999999999997" y2="282.71" stroke="#5a5a5a" stroke-width="0.9"/><text transform="translate(300.50,285.06) scale(1,1.25)" text-anchor="end" font-size="5.2" fill="#2a2a2a" stroke="#2a2a2a" stroke-width="0.2">0.2</text><line x1="301.9" y1="273.82" x2="304.59999999999997" y2="273.82" stroke="#5a5a5a" stroke-width="0.9"/><text transform="translate(300.50,276.17) scale(1,1.25)" text-anchor="end" font-size="5.2" fill="#2a2a2a" stroke="#2a2a2a" stroke-width="0.2">0.4</text><line x1="301.9" y1="264.92" x2="304.59999999999997" y2="264.92" stroke="#5a5a5a" stroke-width="0.9"/><text transform="translate(300.50,267.27) scale(1,1.25)" text-anchor="end" font-size="5.2" fill="#2a2a2a" stroke="#2a2a2a" stroke-width="0.2">0.6</text><line x1="301.9" y1="256.03" x2="304.59999999999997" y2="256.03" stroke="#5a5a5a" stroke-width="0.9"/><text transform="translate(300.50,258.38) scale(1,1.25)" text-anchor="end" font-size="5.2" fill="#2a2a2a" stroke="#2a2a2a" stroke-width="0.2">0.8</text><line x1="301.9" y1="247.14" x2="304.59999999999997" y2="247.14" stroke="#5a5a5a" stroke-width="0.9"/><text transform="translate(300.50,249.49) scale(1,1.25)" text-anchor="end" font-size="5.2" fill="#2a2a2a" stroke="#2a2a2a" stroke-width="0.2">1</text><line x1="301.9" y1="238.25" x2="304.59999999999997" y2="238.25" stroke="#5a5a5a" stroke-width="0.9"/><text transform="translate(300.50,240.60) scale(1,1.25)" text-anchor="end" font-size="5.2" fill="#2a2a2a" stroke="#2a2a2a" stroke-width="0.2">1.2</text><line x1="301.9" y1="229.36" x2="304.59999999999997" y2="229.36" stroke="#5a5a5a" stroke-width="0.9"/><text transform="translate(300.50,231.71) scale(1,1.25)" text-anchor="end" font-size="5.2" fill="#2a2a2a" stroke="#2a2a2a" stroke-width="0.2">1.4</text><line x1="301.9" y1="220.46" x2="304.59999999999997" y2="220.46" stroke="#5a5a5a" stroke-width="0.9"/><text transform="translate(300.50,222.81) scale(1,1.25)" text-anchor="end" font-size="5.2" fill="#2a2a2a" stroke="#2a2a2a" stroke-width="0.2">1.6</text><line x1="301.9" y1="211.57" x2="304.59999999999997" y2="211.57" stroke="#5a5a5a" stroke-width="0.9"/><text transform="translate(300.50,213.92) scale(1,1.25)" text-anchor="end" font-size="5.2" fill="#2a2a2a" stroke="#2a2a2a" stroke-width="0.2">1.8</text><line x1="301.9" y1="202.68" x2="304.59999999999997" y2="202.68" stroke="#5a5a5a" stroke-width="0.9"/><text transform="translate(300.50,205.03) scale(1,1.25)" text-anchor="end" font-size="5.2" fill="#2a2a2a" stroke="#2a2a2a" stroke-width="0.2">2</text><line x1="301.9" y1="193.79" x2="304.59999999999997" y2="193.79" stroke="#5a5a5a" stroke-width="0.9"/><text transform="translate(300.50,196.14) scale(1,1.25)" text-anchor="end" font-size="5.2" fill="#2a2a2a" stroke="#2a2a2a" stroke-width="0.2">2.2</text><line x1="301.9" y1="184.90" x2="304.59999999999997" y2="184.90" stroke="#5a5a5a" stroke-width="0.9"/><text transform="translate(300.50,187.25) scale(1,1.25)" text-anchor="end" font-size="5.2" fill="#2a2a2a" stroke="#2a2a2a" stroke-width="0.2">2.4</text><line x1="301.9" y1="176.00" x2="304.59999999999997" y2="176.00" stroke="#5a5a5a" stroke-width="0.9"/><text transform="translate(300.50,178.35) scale(1,1.25)" text-anchor="end" font-size="5.2" fill="#2a2a2a" stroke="#2a2a2a" stroke-width="0.2">2.6</text><rect x="312.6" y="175.4" width="63.00" height="30.20" fill="#fff" stroke="#6a6a6a" stroke-width="1"/><text x="358.0" y="184.90" text-anchor="end" font-size="5.75" fill="#2a2a2a" stroke="#2a2a2a" stroke-width="0.18">Gl</text><text x="358.0" y="191.70" text-anchor="end" font-size="5.75" fill="#2a2a2a" stroke="#2a2a2a" stroke-width="0.18">Pt(Cv,Cs)</text><text x="358.0" y="198.90" text-anchor="end" font-size="5.75" fill="#2a2a2a" stroke="#2a2a2a" stroke-width="0.18">Pt(Cv,Cs_theo)</text><line x1="359.40" y1="183.00" x2="363.80" y2="183.00" stroke="#e6959c" stroke-width="0.9"/><circle cx="361.60" cy="189.80" r="2.0" fill="#8c1018"/><path d="M359.60,198.60 L363.60,198.60 L361.60,195.10 Z" fill="#6e1020"/><line x1="326.85" y1="291.6" x2="479.10" y2="176.80" stroke="#e6959c" stroke-width="1.25"/><circle cx="479.10" cy="190.00" r="2.0" fill="#8c1018"/><path d="M477.10,178.40 L481.10,178.40 L479.10,174.90 Z" fill="#6e1020"/><text transform="translate(288.90,230.50) rotate(-90)" text-anchor="middle" font-size="5.6" fill="#2a2a2a" stroke="#2a2a2a" stroke-width="0.15">Cs</text><text x="420.40" y="310.30" text-anchor="middle" font-size="5.6" fill="#2a2a2a" stroke="#2a2a2a" stroke-width="0.15">Cv</text><rect x="505.90" y="294.70" width="34.20" height="5.0" fill="#fff"/><text x="506.20" y="298.70" font-size="4.6" fill="#3a3a3a" stroke="#3a3a3a" stroke-width="0.1" textLength="33.60" lengthAdjust="spacingAndGlyphs">©HYFRANPLUS</text></g>
<g><rect x="4.2" y="318.3" width="274.10" height="154.20" fill="none" stroke="#707070" stroke-width="1.4"/><text x="108.4" y="325.0" font-size="6.3" font-weight="bold" fill="#111" stroke="#111" stroke-width="0.12" textLength="78.8" lengthAdjust="spacingAndGlyphs">Abomey: Diagram (Cv,Cs)</text><line x1="35.12" y1="326.9" x2="35.12" y2="447.4" stroke="#5a5a5a" stroke-width="0.9" stroke-dasharray="1.2 1.5"/><line x1="44.95" y1="326.9" x2="44.95" y2="447.4" stroke="#5a5a5a" stroke-width="0.9" stroke-dasharray="1.2 1.5"/><line x1="54.77" y1="326.9" x2="54.77" y2="447.4" stroke="#5a5a5a" stroke-width="0.9" stroke-dasharray="1.2 1.5"/><line x1="64.60" y1="326.9" x2="64.60" y2="447.4" stroke="#5a5a5a" stroke-width="0.9" stroke-dasharray="1.2 1.5"/><line x1="74.42" y1="326.9" x2="74.42" y2="447.4" stroke="#5a5a5a" stroke-width="0.9" stroke-dasharray="1.2 1.5"/><line x1="84.24" y1="326.9" x2="84.24" y2="447.4" stroke="#5a5a5a" stroke-width="0.9" stroke-dasharray="1.2 1.5"/><line x1="94.07" y1="326.9" x2="94.07" y2="447.4" stroke="#5a5a5a" stroke-width="0.9" stroke-dasharray="1.2 1.5"/><line x1="103.89" y1="326.9" x2="103.89" y2="447.4" stroke="#5a5a5a" stroke-width="0.9" stroke-dasharray="1.2 1.5"/><line x1="113.72" y1="326.9" x2="113.72" y2="447.4" stroke="#5a5a5a" stroke-width="0.9" stroke-dasharray="1.2 1.5"/><line x1="123.54" y1="326.9" x2="123.54" y2="447.4" stroke="#5a5a5a" stroke-width="0.9" stroke-dasharray="1.2 1.5"/><line x1="133.36" y1="326.9" x2="133.36" y2="447.4" stroke="#5a5a5a" stroke-width="0.9" stroke-dasharray="1.2 1.5"/><line x1="143.19" y1="326.9" x2="143.19" y2="447.4" stroke="#5a5a5a" stroke-width="0.9" stroke-dasharray="1.2 1.5"/><line x1="153.01" y1="326.9" x2="153.01" y2="447.4" stroke="#5a5a5a" stroke-width="0.9" stroke-dasharray="1.2 1.5"/><line x1="162.84" y1="326.9" x2="162.84" y2="447.4" stroke="#5a5a5a" stroke-width="0.9" stroke-dasharray="1.2 1.5"/><line x1="172.66" y1="326.9" x2="172.66" y2="447.4" stroke="#5a5a5a" stroke-width="0.9" stroke-dasharray="1.2 1.5"/><line x1="182.48" y1="326.9" x2="182.48" y2="447.4" stroke="#5a5a5a" stroke-width="0.9" stroke-dasharray="1.2 1.5"/><line x1="192.31" y1="326.9" x2="192.31" y2="447.4" stroke="#5a5a5a" stroke-width="0.9" stroke-dasharray="1.2 1.5"/><line x1="202.13" y1="326.9" x2="202.13" y2="447.4" stroke="#5a5a5a" stroke-width="0.9" stroke-dasharray="1.2 1.5"/><line x1="211.96" y1="326.9" x2="211.96" y2="447.4" stroke="#5a5a5a" stroke-width="0.9" stroke-dasharray="1.2 1.5"/><line x1="221.78" y1="326.9" x2="221.78" y2="447.4" stroke="#5a5a5a" stroke-width="0.9" stroke-dasharray="1.2 1.5"/><line x1="231.60" y1="326.9" x2="231.60" y2="447.4" stroke="#5a5a5a" stroke-width="0.9" stroke-dasharray="1.2 1.5"/><line x1="241.43" y1="326.9" x2="241.43" y2="447.4" stroke="#5a5a5a" stroke-width="0.9" stroke-dasharray="1.2 1.5"/><line x1="251.25" y1="326.9" x2="251.25" y2="447.4" stroke="#5a5a5a" stroke-width="0.9" stroke-dasharray="1.2 1.5"/><line x1="261.08" y1="326.9" x2="261.08" y2="447.4" stroke="#5a5a5a" stroke-width="0.9" stroke-dasharray="1.2 1.5"/><line x1="25.3" y1="434.01" x2="270.9" y2="434.01" stroke="#5a5a5a" stroke-width="0.9" stroke-dasharray="1.2 1.5"/><line x1="25.3" y1="420.62" x2="270.9" y2="420.62" stroke="#5a5a5a" stroke-width="0.9" stroke-dasharray="1.2 1.5"/><line x1="25.3" y1="407.24" x2="270.9" y2="407.24" stroke="#5a5a5a" stroke-width="0.9" stroke-dasharray="1.2 1.5"/><line x1="25.3" y1="393.85" x2="270.9" y2="393.85" stroke="#5a5a5a" stroke-width="0.9" stroke-dasharray="1.2 1.5"/><line x1="25.3" y1="380.46" x2="270.9" y2="380.46" stroke="#5a5a5a" stroke-width="0.9" stroke-dasharray="1.2 1.5"/><line x1="25.3" y1="367.07" x2="270.9" y2="367.07" stroke="#5a5a5a" stroke-width="0.9" stroke-dasharray="1.2 1.5"/><line x1="25.3" y1="353.68" x2="270.9" y2="353.68" stroke="#5a5a5a" stroke-width="0.9" stroke-dasharray="1.2 1.5"/><line x1="25.3" y1="340.30" x2="270.9" y2="340.30" stroke="#5a5a5a" stroke-width="0.9" stroke-dasharray="1.2 1.5"/><rect x="25.3" y="326.9" width="245.60" height="120.50" fill="none" stroke="#5a5a5a" stroke-width="1.1"/><line x1="25.30" y1="446.2" x2="25.30" y2="448.9" stroke="#5a5a5a" stroke-width="0.9"/><text transform="translate(28.15,451.40) rotate(-90) scale(1,1.25)" text-anchor="end" font-size="5.2" fill="#2a2a2a" stroke="#2a2a2a" stroke-width="0.2">0.1</text><line x1="35.12" y1="446.2" x2="35.12" y2="448.9" stroke="#5a5a5a" stroke-width="0.9"/><text transform="translate(37.97,451.40) rotate(-90) scale(1,1.25)" text-anchor="end" font-size="5.2" fill="#2a2a2a" stroke="#2a2a2a" stroke-width="0.2">0.11</text><line x1="44.95" y1="446.2" x2="44.95" y2="448.9" stroke="#5a5a5a" stroke-width="0.9"/><text transform="translate(47.80,451.40) rotate(-90) scale(1,1.25)" text-anchor="end" font-size="5.2" fill="#2a2a2a" stroke="#2a2a2a" stroke-width="0.2">0.12</text><line x1="54.77" y1="446.2" x2="54.77" y2="448.9" stroke="#5a5a5a" stroke-width="0.9"/><text transform="translate(57.62,451.40) rotate(-90) scale(1,1.25)" text-anchor="end" font-size="5.2" fill="#2a2a2a" stroke="#2a2a2a" stroke-width="0.2">0.13</text><line x1="64.60" y1="446.2" x2="64.60" y2="448.9" stroke="#5a5a5a" stroke-width="0.9"/><text transform="translate(67.45,451.40) rotate(-90) scale(1,1.25)" text-anchor="end" font-size="5.2" fill="#2a2a2a" stroke="#2a2a2a" stroke-width="0.2">0.14</text><line x1="74.42" y1="446.2" x2="74.42" y2="448.9" stroke="#5a5a5a" stroke-width="0.9"/><text transform="translate(77.27,451.40) rotate(-90) scale(1,1.25)" text-anchor="end" font-size="5.2" fill="#2a2a2a" stroke="#2a2a2a" stroke-width="0.2">0.15</text><line x1="84.24" y1="446.2" x2="84.24" y2="448.9" stroke="#5a5a5a" stroke-width="0.9"/><text transform="translate(87.09,451.40) rotate(-90) scale(1,1.25)" text-anchor="end" font-size="5.2" fill="#2a2a2a" stroke="#2a2a2a" stroke-width="0.2">0.16</text><line x1="94.07" y1="446.2" x2="94.07" y2="448.9" stroke="#5a5a5a" stroke-width="0.9"/><text transform="translate(96.92,451.40) rotate(-90) scale(1,1.25)" text-anchor="end" font-size="5.2" fill="#2a2a2a" stroke="#2a2a2a" stroke-width="0.2">0.17</text><line x1="103.89" y1="446.2" x2="103.89" y2="448.9" stroke="#5a5a5a" stroke-width="0.9"/><text transform="translate(106.74,451.40) rotate(-90) scale(1,1.25)" text-anchor="end" font-size="5.2" fill="#2a2a2a" stroke="#2a2a2a" stroke-width="0.2">0.18</text><line x1="113.72" y1="446.2" x2="113.72" y2="448.9" stroke="#5a5a5a" stroke-width="0.9"/><text transform="translate(116.57,451.40) rotate(-90) scale(1,1.25)" text-anchor="end" font-size="5.2" fill="#2a2a2a" stroke="#2a2a2a" stroke-width="0.2">0.19</text><line x1="123.54" y1="446.2" x2="123.54" y2="448.9" stroke="#5a5a5a" stroke-width="0.9"/><text transform="translate(126.39,451.40) rotate(-90) scale(1,1.25)" text-anchor="end" font-size="5.2" fill="#2a2a2a" stroke="#2a2a2a" stroke-width="0.2">0.2</text><line x1="133.36" y1="446.2" x2="133.36" y2="448.9" stroke="#5a5a5a" stroke-width="0.9"/><text transform="translate(136.21,451.40) rotate(-90) scale(1,1.25)" text-anchor="end" font-size="5.2" fill="#2a2a2a" stroke="#2a2a2a" stroke-width="0.2">0.21</text><line x1="143.19" y1="446.2" x2="143.19" y2="448.9" stroke="#5a5a5a" stroke-width="0.9"/><text transform="translate(146.04,451.40) rotate(-90) scale(1,1.25)" text-anchor="end" font-size="5.2" fill="#2a2a2a" stroke="#2a2a2a" stroke-width="0.2">0.22</text><line x1="153.01" y1="446.2" x2="153.01" y2="448.9" stroke="#5a5a5a" stroke-width="0.9"/><text transform="translate(155.86,451.40) rotate(-90) scale(1,1.25)" text-anchor="end" font-size="5.2" fill="#2a2a2a" stroke="#2a2a2a" stroke-width="0.2">0.23</text><line x1="162.84" y1="446.2" x2="162.84" y2="448.9" stroke="#5a5a5a" stroke-width="0.9"/><text transform="translate(165.69,451.40) rotate(-90) scale(1,1.25)" text-anchor="end" font-size="5.2" fill="#2a2a2a" stroke="#2a2a2a" stroke-width="0.2">0.24</text><line x1="172.66" y1="446.2" x2="172.66" y2="448.9" stroke="#5a5a5a" stroke-width="0.9"/><text transform="translate(175.51,451.40) rotate(-90) scale(1,1.25)" text-anchor="end" font-size="5.2" fill="#2a2a2a" stroke="#2a2a2a" stroke-width="0.2">0.25</text><line x1="182.48" y1="446.2" x2="182.48" y2="448.9" stroke="#5a5a5a" stroke-width="0.9"/><text transform="translate(185.33,451.40) rotate(-90) scale(1,1.25)" text-anchor="end" font-size="5.2" fill="#2a2a2a" stroke="#2a2a2a" stroke-width="0.2">0.26</text><line x1="192.31" y1="446.2" x2="192.31" y2="448.9" stroke="#5a5a5a" stroke-width="0.9"/><text transform="translate(195.16,451.40) rotate(-90) scale(1,1.25)" text-anchor="end" font-size="5.2" fill="#2a2a2a" stroke="#2a2a2a" stroke-width="0.2">0.27</text><line x1="202.13" y1="446.2" x2="202.13" y2="448.9" stroke="#5a5a5a" stroke-width="0.9"/><text transform="translate(204.98,451.40) rotate(-90) scale(1,1.25)" text-anchor="end" font-size="5.2" fill="#2a2a2a" stroke="#2a2a2a" stroke-width="0.2">0.28</text><line x1="211.96" y1="446.2" x2="211.96" y2="448.9" stroke="#5a5a5a" stroke-width="0.9"/><text transform="translate(214.81,451.40) rotate(-90) scale(1,1.25)" text-anchor="end" font-size="5.2" fill="#2a2a2a" stroke="#2a2a2a" stroke-width="0.2">0.29</text><line x1="221.78" y1="446.2" x2="221.78" y2="448.9" stroke="#5a5a5a" stroke-width="0.9"/><text transform="translate(224.63,451.40) rotate(-90) scale(1,1.25)" text-anchor="end" font-size="5.2" fill="#2a2a2a" stroke="#2a2a2a" stroke-width="0.2">0.3</text><line x1="231.60" y1="446.2" x2="231.60" y2="448.9" stroke="#5a5a5a" stroke-width="0.9"/><text transform="translate(234.45,451.40) rotate(-90) scale(1,1.25)" text-anchor="end" font-size="5.2" fill="#2a2a2a" stroke="#2a2a2a" stroke-width="0.2">0.31</text><line x1="241.43" y1="446.2" x2="241.43" y2="448.9" stroke="#5a5a5a" stroke-width="0.9"/><text transform="translate(244.28,451.40) rotate(-90) scale(1,1.25)" text-anchor="end" font-size="5.2" fill="#2a2a2a" stroke="#2a2a2a" stroke-width="0.2">0.32</text><line x1="251.25" y1="446.2" x2="251.25" y2="448.9" stroke="#5a5a5a" stroke-width="0.9"/><text transform="translate(254.10,451.40) rotate(-90) scale(1,1.25)" text-anchor="end" font-size="5.2" fill="#2a2a2a" stroke="#2a2a2a" stroke-width="0.2">0.33</text><line x1="261.08" y1="446.2" x2="261.08" y2="448.9" stroke="#5a5a5a" stroke-width="0.9"/><text transform="translate(263.93,451.40) rotate(-90) scale(1,1.25)" text-anchor="end" font-size="5.2" fill="#2a2a2a" stroke="#2a2a2a" stroke-width="0.2">0.34</text><line x1="23.8" y1="447.40" x2="26.5" y2="447.40" stroke="#5a5a5a" stroke-width="0.9"/><text transform="translate(22.40,449.75) scale(1,1.25)" text-anchor="end" font-size="5.2" fill="#2a2a2a" stroke="#2a2a2a" stroke-width="0.2">0</text><line x1="23.8" y1="434.01" x2="26.5" y2="434.01" stroke="#5a5a5a" stroke-width="0.9"/><text transform="translate(22.40,436.36) scale(1,1.25)" text-anchor="end" font-size="5.2" fill="#2a2a2a" stroke="#2a2a2a" stroke-width="0.2">0.2</text><line x1="23.8" y1="420.62" x2="26.5" y2="420.62" stroke="#5a5a5a" stroke-width="0.9"/><text transform="translate(22.40,422.97) scale(1,1.25)" text-anchor="end" font-size="5.2" fill="#2a2a2a" stroke="#2a2a2a" stroke-width="0.2">0.4</text><line x1="23.8" y1="407.24" x2="26.5" y2="407.24" stroke="#5a5a5a" stroke-width="0.9"/><text transform="translate(22.40,409.59) scale(1,1.25)" text-anchor="end" font-size="5.2" fill="#2a2a2a" stroke="#2a2a2a" stroke-width="0.2">0.6</text><line x1="23.8" y1="393.85" x2="26.5" y2="393.85" stroke="#5a5a5a" stroke-width="0.9"/><text transform="translate(22.40,396.20) scale(1,1.25)" text-anchor="end" font-size="5.2" fill="#2a2a2a" stroke="#2a2a2a" stroke-width="0.2">0.8</text><line x1="23.8" y1="380.46" x2="26.5" y2="380.46" stroke="#5a5a5a" stroke-width="0.9"/><text transform="translate(22.40,382.81) scale(1,1.25)" text-anchor="end" font-size="5.2" fill="#2a2a2a" stroke="#2a2a2a" stroke-width="0.2">1</text><line x1="23.8" y1="367.07" x2="26.5" y2="367.07" stroke="#5a5a5a" stroke-width="0.9"/><text transform="translate(22.40,369.42) scale(1,1.25)" text-anchor="end" font-size="5.2" fill="#2a2a2a" stroke="#2a2a2a" stroke-width="0.2">1.2</text><line x1="23.8" y1="353.68" x2="26.5" y2="353.68" stroke="#5a5a5a" stroke-width="0.9"/><text transform="translate(22.40,356.03) scale(1,1.25)" text-anchor="end" font-size="5.2" fill="#2a2a2a" stroke="#2a2a2a" stroke-width="0.2">1.4</text><line x1="23.8" y1="340.30" x2="26.5" y2="340.30" stroke="#5a5a5a" stroke-width="0.9"/><text transform="translate(22.40,342.65) scale(1,1.25)" text-anchor="end" font-size="5.2" fill="#2a2a2a" stroke="#2a2a2a" stroke-width="0.2">1.6</text><line x1="23.8" y1="326.91" x2="26.5" y2="326.91" stroke="#5a5a5a" stroke-width="0.9"/><text transform="translate(22.40,329.26) scale(1,1.25)" text-anchor="end" font-size="5.2" fill="#2a2a2a" stroke="#2a2a2a" stroke-width="0.2">1.8</text><rect x="35.5" y="333.1" width="65.80" height="30.10" fill="#fff" stroke="#6a6a6a" stroke-width="1"/><text x="82.1" y="342.30" text-anchor="end" font-size="5.95" fill="#2a2a2a" stroke="#2a2a2a" stroke-width="0.18">Gl</text><text x="82.1" y="349.50" text-anchor="end" font-size="5.95" fill="#2a2a2a" stroke="#2a2a2a" stroke-width="0.18">Pt(Cv,Cs)</text><text x="82.1" y="356.80" text-anchor="end" font-size="5.95" fill="#2a2a2a" stroke="#2a2a2a" stroke-width="0.18">Pt(Cv,Cs_theo)</text><line x1="83.50" y1="340.40" x2="87.90" y2="340.40" stroke="#e6959c" stroke-width="0.9"/><circle cx="85.70" cy="347.60" r="2.0" fill="#8c1018"/><path d="M83.70,356.50 L87.70,356.50 L85.70,353.00 Z" fill="#6e1020"/><line x1="64.60" y1="447.4" x2="229.50" y2="336.00" stroke="#e6959c" stroke-width="1.25"/><circle cx="229.50" cy="360.90" r="2.0" fill="#8c1018"/><path d="M227.50,337.60 L231.50,337.60 L229.50,334.10 Z" fill="#6e1020"/><text transform="translate(10.50,387.20) rotate(-90)" text-anchor="middle" font-size="5.6" fill="#2a2a2a" stroke="#2a2a2a" stroke-width="0.15">Cs</text><text x="148.00" y="468.70" text-anchor="middle" font-size="5.6" fill="#2a2a2a" stroke="#2a2a2a" stroke-width="0.15">Cv</text><rect x="238.20" y="453.10" width="33.00" height="5.0" fill="#fff"/><text x="238.50" y="457.10" font-size="4.6" fill="#3a3a3a" stroke="#3a3a3a" stroke-width="0.1" textLength="32.40" lengthAdjust="spacingAndGlyphs">©HYFRANPLUS</text></g>
<g><rect x="282.4" y="317.5" width="263.90" height="155.50" fill="none" stroke="#707070" stroke-width="1.4"/><text x="386.0" y="324.3" font-size="6.2" font-weight="bold" fill="#111" stroke="#111" stroke-width="0.12" textLength="72.2" lengthAdjust="spacingAndGlyphs">Dogbo: Diagram (Cv,Cs)</text><line x1="315.45" y1="325.5" x2="315.45" y2="447.4" stroke="#5a5a5a" stroke-width="0.9" stroke-dasharray="1.2 1.5"/><line x1="327.41" y1="325.5" x2="327.41" y2="447.4" stroke="#5a5a5a" stroke-width="0.9" stroke-dasharray="1.2 1.5"/><line x1="339.37" y1="325.5" x2="339.37" y2="447.4" stroke="#5a5a5a" stroke-width="0.9" stroke-dasharray="1.2 1.5"/><line x1="351.32" y1="325.5" x2="351.32" y2="447.4" stroke="#5a5a5a" stroke-width="0.9" stroke-dasharray="1.2 1.5"/><line x1="363.28" y1="325.5" x2="363.28" y2="447.4" stroke="#5a5a5a" stroke-width="0.9" stroke-dasharray="1.2 1.5"/><line x1="375.23" y1="325.5" x2="375.23" y2="447.4" stroke="#5a5a5a" stroke-width="0.9" stroke-dasharray="1.2 1.5"/><line x1="387.19" y1="325.5" x2="387.19" y2="447.4" stroke="#5a5a5a" stroke-width="0.9" stroke-dasharray="1.2 1.5"/><line x1="399.14" y1="325.5" x2="399.14" y2="447.4" stroke="#5a5a5a" stroke-width="0.9" stroke-dasharray="1.2 1.5"/><line x1="411.10" y1="325.5" x2="411.10" y2="447.4" stroke="#5a5a5a" stroke-width="0.9" stroke-dasharray="1.2 1.5"/><line x1="423.05" y1="325.5" x2="423.05" y2="447.4" stroke="#5a5a5a" stroke-width="0.9" stroke-dasharray="1.2 1.5"/><line x1="435.01" y1="325.5" x2="435.01" y2="447.4" stroke="#5a5a5a" stroke-width="0.9" stroke-dasharray="1.2 1.5"/><line x1="446.96" y1="325.5" x2="446.96" y2="447.4" stroke="#5a5a5a" stroke-width="0.9" stroke-dasharray="1.2 1.5"/><line x1="458.92" y1="325.5" x2="458.92" y2="447.4" stroke="#5a5a5a" stroke-width="0.9" stroke-dasharray="1.2 1.5"/><line x1="470.87" y1="325.5" x2="470.87" y2="447.4" stroke="#5a5a5a" stroke-width="0.9" stroke-dasharray="1.2 1.5"/><line x1="482.83" y1="325.5" x2="482.83" y2="447.4" stroke="#5a5a5a" stroke-width="0.9" stroke-dasharray="1.2 1.5"/><line x1="494.78" y1="325.5" x2="494.78" y2="447.4" stroke="#5a5a5a" stroke-width="0.9" stroke-dasharray="1.2 1.5"/><line x1="506.74" y1="325.5" x2="506.74" y2="447.4" stroke="#5a5a5a" stroke-width="0.9" stroke-dasharray="1.2 1.5"/><line x1="518.69" y1="325.5" x2="518.69" y2="447.4" stroke="#5a5a5a" stroke-width="0.9" stroke-dasharray="1.2 1.5"/><line x1="530.65" y1="325.5" x2="530.65" y2="447.4" stroke="#5a5a5a" stroke-width="0.9" stroke-dasharray="1.2 1.5"/><line x1="303.5" y1="439.79" x2="542.6" y2="439.79" stroke="#5a5a5a" stroke-width="0.9" stroke-dasharray="1.2 1.5"/><line x1="303.5" y1="432.19" x2="542.6" y2="432.19" stroke="#5a5a5a" stroke-width="0.9" stroke-dasharray="1.2 1.5"/><line x1="303.5" y1="424.58" x2="542.6" y2="424.58" stroke="#5a5a5a" stroke-width="0.9" stroke-dasharray="1.2 1.5"/><line x1="303.5" y1="416.97" x2="542.6" y2="416.97" stroke="#5a5a5a" stroke-width="0.9" stroke-dasharray="1.2 1.5"/><line x1="303.5" y1="409.37" x2="542.6" y2="409.37" stroke="#5a5a5a" stroke-width="0.9" stroke-dasharray="1.2 1.5"/><line x1="303.5" y1="401.76" x2="542.6" y2="401.76" stroke="#5a5a5a" stroke-width="0.9" stroke-dasharray="1.2 1.5"/><line x1="303.5" y1="394.15" x2="542.6" y2="394.15" stroke="#5a5a5a" stroke-width="0.9" stroke-dasharray="1.2 1.5"/><line x1="303.5" y1="386.54" x2="542.6" y2="386.54" stroke="#5a5a5a" stroke-width="0.9" stroke-dasharray="1.2 1.5"/><line x1="303.5" y1="378.94" x2="542.6" y2="378.94" stroke="#5a5a5a" stroke-width="0.9" stroke-dasharray="1.2 1.5"/><line x1="303.5" y1="371.33" x2="542.6" y2="371.33" stroke="#5a5a5a" stroke-width="0.9" stroke-dasharray="1.2 1.5"/><line x1="303.5" y1="363.72" x2="542.6" y2="363.72" stroke="#5a5a5a" stroke-width="0.9" stroke-dasharray="1.2 1.5"/><line x1="303.5" y1="356.12" x2="542.6" y2="356.12" stroke="#5a5a5a" stroke-width="0.9" stroke-dasharray="1.2 1.5"/><line x1="303.5" y1="348.51" x2="542.6" y2="348.51" stroke="#5a5a5a" stroke-width="0.9" stroke-dasharray="1.2 1.5"/><line x1="303.5" y1="340.90" x2="542.6" y2="340.90" stroke="#5a5a5a" stroke-width="0.9" stroke-dasharray="1.2 1.5"/><line x1="303.5" y1="333.29" x2="542.6" y2="333.29" stroke="#5a5a5a" stroke-width="0.9" stroke-dasharray="1.2 1.5"/><rect x="303.5" y="325.5" width="239.10" height="121.90" fill="none" stroke="#5a5a5a" stroke-width="1.1"/><line x1="303.50" y1="446.2" x2="303.50" y2="448.9" stroke="#5a5a5a" stroke-width="0.9"/><text transform="translate(306.35,451.40) rotate(-90) scale(1,1.25)" text-anchor="end" font-size="5.2" fill="#2a2a2a" stroke="#2a2a2a" stroke-width="0.2">0.1</text><line x1="315.45" y1="446.2" x2="315.45" y2="448.9" stroke="#5a5a5a" stroke-width="0.9"/><text transform="translate(318.31,451.40) rotate(-90) scale(1,1.25)" text-anchor="end" font-size="5.2" fill="#2a2a2a" stroke="#2a2a2a" stroke-width="0.2">0.11</text><line x1="327.41" y1="446.2" x2="327.41" y2="448.9" stroke="#5a5a5a" stroke-width="0.9"/><text transform="translate(330.26,451.40) rotate(-90) scale(1,1.25)" text-anchor="end" font-size="5.2" fill="#2a2a2a" stroke="#2a2a2a" stroke-width="0.2">0.12</text><line x1="339.37" y1="446.2" x2="339.37" y2="448.9" stroke="#5a5a5a" stroke-width="0.9"/><text transform="translate(342.22,451.40) rotate(-90) scale(1,1.25)" text-anchor="end" font-size="5.2" fill="#2a2a2a" stroke="#2a2a2a" stroke-width="0.2">0.13</text><line x1="351.32" y1="446.2" x2="351.32" y2="448.9" stroke="#5a5a5a" stroke-width="0.9"/><text transform="translate(354.17,451.40) rotate(-90) scale(1,1.25)" text-anchor="end" font-size="5.2" fill="#2a2a2a" stroke="#2a2a2a" stroke-width="0.2">0.14</text><line x1="363.28" y1="446.2" x2="363.28" y2="448.9" stroke="#5a5a5a" stroke-width="0.9"/><text transform="translate(366.13,451.40) rotate(-90) scale(1,1.25)" text-anchor="end" font-size="5.2" fill="#2a2a2a" stroke="#2a2a2a" stroke-width="0.2">0.15</text><line x1="375.23" y1="446.2" x2="375.23" y2="448.9" stroke="#5a5a5a" stroke-width="0.9"/><text transform="translate(378.08,451.40) rotate(-90) scale(1,1.25)" text-anchor="end" font-size="5.2" fill="#2a2a2a" stroke="#2a2a2a" stroke-width="0.2">0.16</text><line x1="387.19" y1="446.2" x2="387.19" y2="448.9" stroke="#5a5a5a" stroke-width="0.9"/><text transform="translate(390.04,451.40) rotate(-90) scale(1,1.25)" text-anchor="end" font-size="5.2" fill="#2a2a2a" stroke="#2a2a2a" stroke-width="0.2">0.17</text><line x1="399.14" y1="446.2" x2="399.14" y2="448.9" stroke="#5a5a5a" stroke-width="0.9"/><text transform="translate(401.99,451.40) rotate(-90) scale(1,1.25)" text-anchor="end" font-size="5.2" fill="#2a2a2a" stroke="#2a2a2a" stroke-width="0.2">0.18</text><line x1="411.10" y1="446.2" x2="411.10" y2="448.9" stroke="#5a5a5a" stroke-width="0.9"/><text transform="translate(413.95,451.40) rotate(-90) scale(1,1.25)" text-anchor="end" font-size="5.2" fill="#2a2a2a" stroke="#2a2a2a" stroke-width="0.2">0.19</text><line x1="423.05" y1="446.2" x2="423.05" y2="448.9" stroke="#5a5a5a" stroke-width="0.9"/><text transform="translate(425.90,451.40) rotate(-90) scale(1,1.25)" text-anchor="end" font-size="5.2" fill="#2a2a2a" stroke="#2a2a2a" stroke-width="0.2">0.2</text><line x1="435.01" y1="446.2" x2="435.01" y2="448.9" stroke="#5a5a5a" stroke-width="0.9"/><text transform="translate(437.86,451.40) rotate(-90) scale(1,1.25)" text-anchor="end" font-size="5.2" fill="#2a2a2a" stroke="#2a2a2a" stroke-width="0.2">0.21</text><line x1="446.96" y1="446.2" x2="446.96" y2="448.9" stroke="#5a5a5a" stroke-width="0.9"/><text transform="translate(449.81,451.40) rotate(-90) scale(1,1.25)" text-anchor="end" font-size="5.2" fill="#2a2a2a" stroke="#2a2a2a" stroke-width="0.2">0.22</text><line x1="458.92" y1="446.2" x2="458.92" y2="448.9" stroke="#5a5a5a" stroke-width="0.9"/><text transform="translate(461.77,451.40) rotate(-90) scale(1,1.25)" text-anchor="end" font-size="5.2" fill="#2a2a2a" stroke="#2a2a2a" stroke-width="0.2">0.23</text><line x1="470.87" y1="446.2" x2="470.87" y2="448.9" stroke="#5a5a5a" stroke-width="0.9"/><text transform="translate(473.72,451.40) rotate(-90) scale(1,1.25)" text-anchor="end" font-size="5.2" fill="#2a2a2a" stroke="#2a2a2a" stroke-width="0.2">0.24</text><line x1="482.83" y1="446.2" x2="482.83" y2="448.9" stroke="#5a5a5a" stroke-width="0.9"/><text transform="translate(485.68,451.40) rotate(-90) scale(1,1.25)" text-anchor="end" font-size="5.2" fill="#2a2a2a" stroke="#2a2a2a" stroke-width="0.2">0.25</text><line x1="494.78" y1="446.2" x2="494.78" y2="448.9" stroke="#5a5a5a" stroke-width="0.9"/><text transform="translate(497.63,451.40) rotate(-90) scale(1,1.25)" text-anchor="end" font-size="5.2" fill="#2a2a2a" stroke="#2a2a2a" stroke-width="0.2">0.26</text><line x1="506.74" y1="446.2" x2="506.74" y2="448.9" stroke="#5a5a5a" stroke-width="0.9"/><text transform="translate(509.59,451.40) rotate(-90) scale(1,1.25)" text-anchor="end" font-size="5.2" fill="#2a2a2a" stroke="#2a2a2a" stroke-width="0.2">0.27</text><line x1="518.69" y1="446.2" x2="518.69" y2="448.9" stroke="#5a5a5a" stroke-width="0.9"/><text transform="translate(521.54,451.40) rotate(-90) scale(1,1.25)" text-anchor="end" font-size="5.2" fill="#2a2a2a" stroke="#2a2a2a" stroke-width="0.2">0.28</text><line x1="530.65" y1="446.2" x2="530.65" y2="448.9" stroke="#5a5a5a" stroke-width="0.9"/><text transform="translate(533.50,451.40) rotate(-90) scale(1,1.25)" text-anchor="end" font-size="5.2" fill="#2a2a2a" stroke="#2a2a2a" stroke-width="0.2">0.29</text><line x1="302.0" y1="447.40" x2="304.7" y2="447.40" stroke="#5a5a5a" stroke-width="0.9"/><text transform="translate(300.60,449.75) scale(1,1.25)" text-anchor="end" font-size="5.2" fill="#2a2a2a" stroke="#2a2a2a" stroke-width="0.2">0</text><line x1="302.0" y1="439.79" x2="304.7" y2="439.79" stroke="#5a5a5a" stroke-width="0.9"/><text transform="translate(300.60,442.14) scale(1,1.25)" text-anchor="end" font-size="5.2" fill="#2a2a2a" stroke="#2a2a2a" stroke-width="0.2">0.1</text><line x1="302.0" y1="432.19" x2="304.7" y2="432.19" stroke="#5a5a5a" stroke-width="0.9"/><text transform="translate(300.60,434.54) scale(1,1.25)" text-anchor="end" font-size="5.2" fill="#2a2a2a" stroke="#2a2a2a" stroke-width="0.2">0.2</text><line x1="302.0" y1="424.58" x2="304.7" y2="424.58" stroke="#5a5a5a" stroke-width="0.9"/><text transform="translate(300.60,426.93) scale(1,1.25)" text-anchor="end" font-size="5.2" fill="#2a2a2a" stroke="#2a2a2a" stroke-width="0.2">0.3</text><line x1="302.0" y1="416.97" x2="304.7" y2="416.97" stroke="#5a5a5a" stroke-width="0.9"/><text transform="translate(300.60,419.32) scale(1,1.25)" text-anchor="end" font-size="5.2" fill="#2a2a2a" stroke="#2a2a2a" stroke-width="0.2">0.4</text><line x1="302.0" y1="409.37" x2="304.7" y2="409.37" stroke="#5a5a5a" stroke-width="0.9"/><text transform="translate(300.60,411.72) scale(1,1.25)" text-anchor="end" font-size="5.2" fill="#2a2a2a" stroke="#2a2a2a" stroke-width="0.2">0.5</text><line x1="302.0" y1="401.76" x2="304.7" y2="401.76" stroke="#5a5a5a" stroke-width="0.9"/><text transform="translate(300.60,404.11) scale(1,1.25)" text-anchor="end" font-size="5.2" fill="#2a2a2a" stroke="#2a2a2a" stroke-width="0.2">0.6</text><line x1="302.0" y1="394.15" x2="304.7" y2="394.15" stroke="#5a5a5a" stroke-width="0.9"/><text transform="translate(300.60,396.50) scale(1,1.25)" text-anchor="end" font-size="5.2" fill="#2a2a2a" stroke="#2a2a2a" stroke-width="0.2">0.7</text><line x1="302.0" y1="386.54" x2="304.7" y2="386.54" stroke="#5a5a5a" stroke-width="0.9"/><text transform="translate(300.60,388.89) scale(1,1.25)" text-anchor="end" font-size="5.2" fill="#2a2a2a" stroke="#2a2a2a" stroke-width="0.2">0.8</text><line x1="302.0" y1="378.94" x2="304.7" y2="378.94" stroke="#5a5a5a" stroke-width="0.9"/><text transform="translate(300.60,381.29) scale(1,1.25)" text-anchor="end" font-size="5.2" fill="#2a2a2a" stroke="#2a2a2a" stroke-width="0.2">0.9</text><line x1="302.0" y1="371.33" x2="304.7" y2="371.33" stroke="#5a5a5a" stroke-width="0.9"/><text transform="translate(300.60,373.68) scale(1,1.25)" text-anchor="end" font-size="5.2" fill="#2a2a2a" stroke="#2a2a2a" stroke-width="0.2">1</text><line x1="302.0" y1="363.72" x2="304.7" y2="363.72" stroke="#5a5a5a" stroke-width="0.9"/><text transform="translate(300.60,366.07) scale(1,1.25)" text-anchor="end" font-size="5.2" fill="#2a2a2a" stroke="#2a2a2a" stroke-width="0.2">1.1</text><line x1="302.0" y1="356.12" x2="304.7" y2="356.12" stroke="#5a5a5a" stroke-width="0.9"/><text transform="translate(300.60,358.47) scale(1,1.25)" text-anchor="end" font-size="5.2" fill="#2a2a2a" stroke="#2a2a2a" stroke-width="0.2">1.2</text><line x1="302.0" y1="348.51" x2="304.7" y2="348.51" stroke="#5a5a5a" stroke-width="0.9"/><text transform="translate(300.60,350.86) scale(1,1.25)" text-anchor="end" font-size="5.2" fill="#2a2a2a" stroke="#2a2a2a" stroke-width="0.2">1.3</text><line x1="302.0" y1="340.90" x2="304.7" y2="340.90" stroke="#5a5a5a" stroke-width="0.9"/><text transform="translate(300.60,343.25) scale(1,1.25)" text-anchor="end" font-size="5.2" fill="#2a2a2a" stroke="#2a2a2a" stroke-width="0.2">1.4</text><line x1="302.0" y1="333.29" x2="304.7" y2="333.29" stroke="#5a5a5a" stroke-width="0.9"/><text transform="translate(300.60,335.64) scale(1,1.25)" text-anchor="end" font-size="5.2" fill="#2a2a2a" stroke="#2a2a2a" stroke-width="0.2">1.5</text><rect x="313.5" y="331.8" width="63.60" height="30.60" fill="#fff" stroke="#6a6a6a" stroke-width="1"/><text x="358.9" y="341.70" text-anchor="end" font-size="5.85" fill="#2a2a2a" stroke="#2a2a2a" stroke-width="0.18">Gl</text><text x="358.9" y="349.00" text-anchor="end" font-size="5.85" fill="#2a2a2a" stroke="#2a2a2a" stroke-width="0.18">Pt(Cv,Cs)</text><text x="358.9" y="355.80" text-anchor="end" font-size="5.85" fill="#2a2a2a" stroke="#2a2a2a" stroke-width="0.18">Pt(Cv,Cs_theo)</text><line x1="360.30" y1="339.80" x2="364.70" y2="339.80" stroke="#e6959c" stroke-width="0.9"/><circle cx="362.50" cy="347.10" r="2.0" fill="#8c1018"/><path d="M360.50,355.50 L364.50,355.50 L362.50,352.00 Z" fill="#6e1020"/><line x1="351.32" y1="447.4" x2="528.10" y2="335.10" stroke="#e6959c" stroke-width="1.25"/><circle cx="528.10" cy="405.80" r="2.0" fill="#8c1018"/><path d="M526.10,336.70 L530.10,336.70 L528.10,333.20 Z" fill="#6e1020"/><text transform="translate(288.00,386.80) rotate(-90)" text-anchor="middle" font-size="5.6" fill="#2a2a2a" stroke="#2a2a2a" stroke-width="0.15">Cs</text><text x="422.70" y="469.30" text-anchor="middle" font-size="5.6" fill="#2a2a2a" stroke="#2a2a2a" stroke-width="0.15">Cv</text><rect x="507.60" y="453.50" width="34.80" height="5.0" fill="#fff"/><text x="507.90" y="457.50" font-size="4.6" fill="#3a3a3a" stroke="#3a3a3a" stroke-width="0.1" textLength="34.20" lengthAdjust="spacingAndGlyphs">©HYFRANPLUS</text></g>
</svg></body></html>
